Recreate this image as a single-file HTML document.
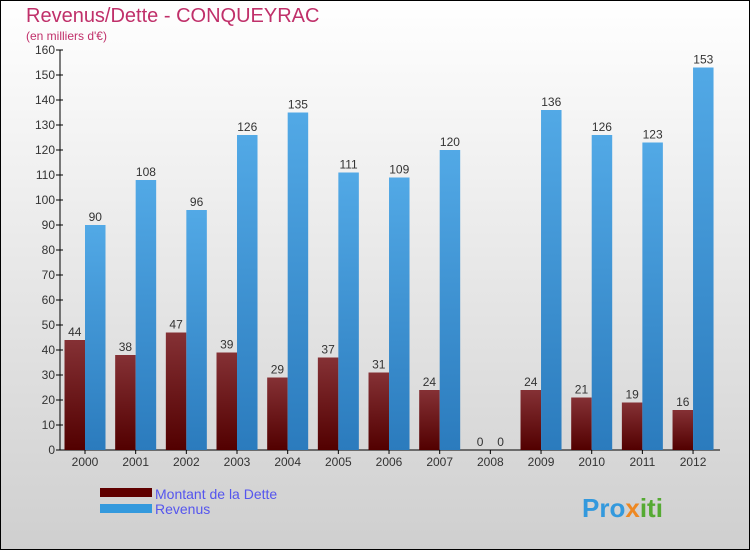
<!DOCTYPE html>
<html><head><meta charset="utf-8"><style>
body{margin:0}
#c{width:750px;height:550px;position:relative;overflow:hidden;font-family:"Liberation Sans",sans-serif}
svg text{font-family:"Liberation Sans",sans-serif}
</style></head><body>
<div id="c">
<svg id="s" width="750" height="550" xmlns="http://www.w3.org/2000/svg">
<defs>
<linearGradient id="bg" x1="0" y1="0" x2="0" y2="1"><stop offset="0" stop-color="#ffffff"/><stop offset="1" stop-color="#cfcfcf"/></linearGradient>
<linearGradient id="gd" x1="0" y1="0" x2="0" y2="1"><stop offset="0" stop-color="#853135"/><stop offset="1" stop-color="#520000"/></linearGradient>
<linearGradient id="gr" x1="0" y1="0" x2="0" y2="1"><stop offset="0" stop-color="#52a9e6"/><stop offset="1" stop-color="#2b7bbd"/></linearGradient>
</defs>
<rect x="0.5" y="0.5" width="749" height="549" fill="url(#bg)" stroke="#000"/>
<text x="26" y="22" font-size="20" fill="#c0306a">Revenus/Dette - CONQUEYRAC</text>
<text x="26" y="40" font-size="12" fill="#c0306a">(en milliers d'€)</text>
<g id="plot"></g>
<rect x="100" y="488" width="52" height="9" fill="#600000"/>
<text x="155" y="499" font-size="14" fill="#5555ee">Montant de la Dette</text>
<rect x="100" y="504" width="52" height="9" fill="#3399dd"/>
<text x="155" y="514" font-size="14" fill="#5555ee">Revenus</text>
<text x="582" y="517" font-size="26" font-weight="bold" fill="#3399dd">Pro<tspan fill="#ee8822">x</tspan><tspan fill="#55aa33">iti</tspan></text>
</svg>
</div>
<script>
const years=["2000","2001","2002","2003","2004","2005","2006","2007","2008","2009","2010","2011","2012"];
const dette=[44,38,47,39,29,37,31,24,0,24,21,19,16];
const revenus=[90,108,96,126,135,111,109,120,0,136,126,123,153];
const ticks=[0,10,20,30,40,50,60,70,80,90,100,110,120,130,140,150,160];
const NS="http://www.w3.org/2000/svg";
const g=document.getElementById('plot');
const y0=450,ppu=2.5,x0=85,step=50.67,bw=20.5;
const Y=v=>y0-v*ppu, X=i=>x0+i*step;
function mk(t,a){const e=document.createElementNS(NS,t);for(const k in a)e.setAttribute(k,a[k]);g.appendChild(e);return e;}
let ax=mk('line',{x1:60,y1:50,x2:60,y2:450,stroke:'#000'});


let bx=mk('line',{x1:60,y1:450,x2:720,y2:450,stroke:'#000'});


ticks.forEach(t=>{
 let l=mk('line',{x1:56,y1:Y(t),x2:63,y2:Y(t),stroke:'#000'});
 
 
 let tx=mk('text',{x:55,y:Y(t)+4,'font-size':12,fill:'#333','text-anchor':'end'});
 tx.textContent=t;
 
 
});
years.forEach((yr,i)=>{
 const cx=X(i);
 let tk=mk('line',{x1:cx,y1:450,x2:cx,y2:454,stroke:'#000'});
 
 
 let t=mk('text',{x:cx,y:466,'font-size':12,fill:'#333','text-anchor':'middle'});
 t.textContent=yr;
 
 
 let d=mk('rect',{x:cx-bw,y:Y(dette[i]),width:bw,height:dette[i]*ppu,fill:'url(#gd)'});
 
 
 let r=mk('rect',{x:cx,y:Y(revenus[i]),width:bw,height:revenus[i]*ppu,fill:'url(#gr)'});
 
 
 let dl=mk('text',{x:cx-bw/2,y:Y(dette[i])-4,'font-size':12,fill:'#333','text-anchor':'middle'});
 dl.textContent=dette[i];
 
 
 let rl=mk('text',{x:cx+bw/2,y:Y(revenus[i])-4,'font-size':12,fill:'#333','text-anchor':'middle'});
 rl.textContent=revenus[i];
 
 
});
</script>
</body></html>
